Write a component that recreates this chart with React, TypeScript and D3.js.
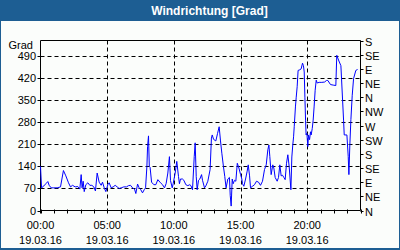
import React, { useEffect } from "react";
import * as d3 from "d3";

// ---- data ----
const hours: number[] = [
  0.0, 0.08, 0.25, 0.4, 0.55, 0.65, 0.8, 1.0, 1.25, 1.5, 1.72, 1.9, 2.1, 2.25, 2.4, 2.6, 2.8, 2.95, 3.05, 3.12,
  3.2, 3.28, 3.4, 3.55, 3.7, 3.85, 4.0, 4.12, 4.25, 4.4, 4.55, 4.65, 4.78, 4.9, 5.05, 5.15, 5.3, 5.45, 5.6, 5.75,
  5.9, 6.05, 6.25, 6.45, 6.6, 6.75, 6.9, 7.05, 7.15, 7.28, 7.4, 7.52, 7.65, 7.78, 7.88, 7.98, 8.03, 8.1, 8.16, 8.22,
  8.33, 8.5, 8.65, 8.8, 9.0, 9.15, 9.3, 9.42, 9.55, 9.67, 9.75, 9.88, 9.95, 10.1, 10.22, 10.35, 10.42, 10.5, 10.65, 10.75,
  10.9, 11.05, 11.2, 11.28, 11.4, 11.53, 11.6, 11.68, 11.75, 11.85, 11.95, 12.08, 12.15, 12.3, 12.4, 12.55, 12.72, 12.82, 12.88, 12.98,
  13.15, 13.28, 13.4, 13.5, 13.6, 13.72, 13.82, 13.92, 14.05, 14.17, 14.23, 14.3, 14.38, 14.45, 14.55, 14.65, 14.76, 14.88, 15.0, 15.1,
  15.15, 15.25, 15.38, 15.5, 15.58, 15.68, 15.75, 15.9, 16.05, 16.2, 16.35, 16.5, 16.65, 16.8, 16.93, 17.05, 17.13, 17.2, 17.3, 17.42,
  17.5, 17.6, 17.75, 17.85, 17.95, 18.05, 18.15, 18.25, 18.35, 18.45, 18.55, 18.65, 18.78, 18.85, 18.92, 18.98, 19.03, 19.12, 19.18, 19.25,
  19.32, 19.45, 19.55, 19.65, 19.72, 19.78, 19.83, 19.88, 19.92, 19.98, 20.05, 20.1, 20.18, 20.25, 20.3, 20.38, 20.45, 20.52, 20.6, 20.68,
  20.75, 20.9, 21.1, 21.3, 21.45, 21.55, 21.75, 22.0, 22.15, 22.22, 22.35, 22.53, 22.73, 22.78, 22.98, 23.08, 23.13, 23.2, 23.28, 23.38,
  23.48, 23.65, 23.78,
];
const direction: number[] = [
  140, 72, 78, 85, 92, 80, 72, 72, 72, 75, 127, 110, 88, 75, 80, 75, 76, 68, 114, 72,
  93, 60, 82, 88, 80, 80, 75, 62, 119, 90, 80, 90, 72, 60, 82, 88, 72, 75, 80, 75,
  70, 72, 75, 75, 79, 80, 72, 68, 54, 84, 72, 66, 56, 66, 72, 140, 203, 237, 140, 137,
  90, 82, 82, 98, 88, 82, 72, 85, 119, 171, 95, 72, 85, 119, 156, 108, 85, 100, 100, 96,
  82, 79, 82, 79, 66, 171, 215, 108, 66, 96, 100, 114, 96, 72, 78, 93, 130, 230, 240, 226,
  221, 245, 266, 221, 182, 140, 108, 72, 100, 105, 48, 14, 100, 85, 96, 93, 150, 135, 115, 100,
  85, 77, 100, 125, 145, 110, 72, 77, 82, 93, 90, 80, 93, 130, 145, 193, 208, 171, 114, 145,
  135, 105, 93, 105, 145, 110, 112, 105, 98, 150, 177, 140, 66, 170, 208, 234, 266, 329, 360, 393,
  445, 447, 450, 468, 460, 440, 360, 287, 240, 245, 203, 240, 225, 250, 240, 260, 287, 329, 382, 414,
  405, 407, 407, 408, 413, 413, 400, 398, 397, 493, 478, 460, 287, 240, 240, 171, 114, 208, 289, 366,
  419, 445, 448,
];
const yTicks: number[] = [0, 70, 140, 210, 280, 350, 420, 490];
const compassLabels: string[] = ["N", "NE", "E", "SE", "S", "SW", "W", "NW", "N", "NE", "E", "SE", "S"];
const xTickHours: number[] = [0, 5, 10, 15, 20];
const xTimeLabels: string[] = ["00:00", "05:00", "10:00", "15:00", "20:00"];
const xDateLabels: string[] = ["19.03.16", "19.03.16", "19.03.16", "19.03.16", "19.03.16"];
const titleText = "Windrichtung [Grad]";
const unitLabel = "Grad";

const W = 400;
const H = 250;
const BLUE = "#1d5e93";
const FONT = "'Liberation Sans', Arial, sans-serif";

export default function App() {
  useEffect(() => {
    document.body.style.margin = "0";
  }, []);

  const x = d3.scaleLinear().domain([0, 24]).range([40.5, 360.5]);
  const y = d3.scaleLinear().domain([0, 540]).range([210.5, 40.5]);
  const pts: [number, number][] = hours.map((h, i) => [h, direction[i]]);
  const line = d3
    .line<[number, number]>()
    .x((d) => x(d[0]))
    .y((d) => y(d[1]));

  const x0 = x(0), x1 = x(24), y0 = y(0), y1 = y(540);
  const hourTicks = d3.range(0, 25);

  return (
    <svg
      width={W}
      height={H}
      style={{ position: "absolute", left: 0, top: 0, display: "block" }}
      fontFamily={FONT}
    >
      <rect x={0} y={0} width={W} height={H} fill={BLUE} />
      <rect x={1} y={21} width={W - 2} height={H - 23} fill="#fbfdfb" />
      <text x={209.5} y={14.5} fill="#fff" fontSize={12} fontWeight="bold" textAnchor="middle">
        {titleText}
      </text>

      {/* horizontal grid */}
      {yTicks.filter((t) => t > 0).map((t) => (
        <line key={"gy" + t} x1={x0} x2={x1} y1={Math.round(y(t)) + 0.5} y2={Math.round(y(t)) + 0.5}
          stroke="#000" strokeWidth={1} strokeDasharray="4,3" />
      ))}
      {/* vertical grid */}
      {xTickHours.filter((h) => h > 0).map((h) => (
        <line key={"gx" + h} x1={Math.round(x(h)) + 0.5} x2={Math.round(x(h)) + 0.5} y1={y1} y2={y0}
          stroke="#000" strokeWidth={1} strokeDasharray="4,3" />
      ))}

      {/* frame */}
      <line x1={x0} x2={x1} y1={y1} y2={y1} stroke="#000" />
      <line x1={x0} x2={x1} y1={y0} y2={y0} stroke="#000" />
      <line x1={x0} x2={x0} y1={y1} y2={y0 + 3} stroke="#000" />
      <line x1={x1} x2={x1} y1={y1} y2={y0} stroke="#000" />

      {/* bottom ticks */}
      {hourTicks.map((h) => (
        <line key={"bt" + h} x1={Math.round(x(h)) + 0.5} x2={Math.round(x(h)) + 0.5} y1={y0 - 1} y2={y0 + 3} stroke="#000" />
      ))}

      {/* left axis */}
      {yTicks.map((t) => (
        <g key={"ly" + t}>
          <line x1={x0 - 3} x2={x0} y1={Math.round(y(t)) + 0.5} y2={Math.round(y(t)) + 0.5} stroke="#000" />
          <text x={36} y={y(t) + 4} fontSize={11} textAnchor="end" fill="#000">{t}</text>
        </g>
      ))}
      <text x={33} y={48.5} fontSize={11} textAnchor="end" fill="#000">{unitLabel}</text>

      {/* right compass axis */}
      {compassLabels.map((lab, i) => {
        const yy = Math.round(y(i * 45)) + 0.5;
        return (
          <g key={"ry" + i}>
            <line x1={x1} x2={x1 + 3} y1={yy} y2={yy} stroke="#000" />
            <text x={x1 + 4.5} y={yy + 4} fontSize={11} fill="#000">{lab}</text>
          </g>
        );
      })}

      {/* x labels */}
      {xTickHours.map((h, i) => (
        <g key={"xl" + h}>
          <text x={x(h)} y={229} fontSize={11} textAnchor="middle" fill="#000">{xTimeLabels[i]}</text>
          <text x={x(h)} y={244} fontSize={11} textAnchor="middle" fill="#000">{xDateLabels[i]}</text>
        </g>
      ))}

      {/* data line */}
      <path d={line(pts) || ""} fill="none" stroke="#0000ff" strokeWidth={1} strokeLinejoin="round" />
    </svg>
  );
}
